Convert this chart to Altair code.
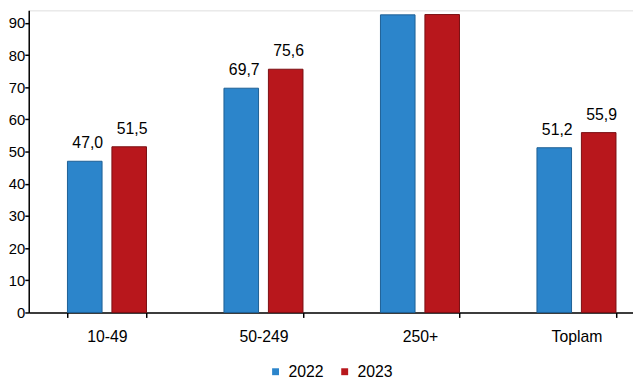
import altair as alt
import pandas as pd

categories = ["10-49", "50-249", "250+", "Toplam"]
years = ["2022", "2023"]
values_2022 = [47.0, 69.7, 92.5, 51.2]
values_2023 = [51.5, 75.6, 92.6, 55.9]
y_ticks = [0, 10, 20, 30, 40, 50, 60, 70, 80, 90]

rows = []
for c, a, b in zip(categories, values_2022, values_2023):
    rows.append({"cat": c, "year": years[0], "value": a})
    rows.append({"cat": c, "year": years[1], "value": b})
df = pd.DataFrame(rows)
df["label"] = df["value"].map(lambda v: f"{v:.1f}".replace(".", ","))

FONT = "Liberation Sans"
BLUE = "#2c85cb"
RED = "#b8171c"
BLUE_EDGE = "#1d5f94"
RED_EDGE = "#7a0f12"

x = alt.X(
    "cat:N", sort=categories, title=None,
    scale=alt.Scale(range=[0, 634], paddingInner=0.495, paddingOuter=0.2475),
    axis=alt.Axis(labelAngle=0, labelFontSize=16, labelColor="#000", labelFont=FONT,
                  labelPadding=11, tickBand="extent", tickSize=5, tickColor="#000",
                  tickWidth=1.5, domainColor="#000", domainWidth=1.5, grid=False),
)
xo = alt.XOffset("year:N", sort=years, scale=alt.Scale(paddingInner=0.222, paddingOuter=0))
y = alt.Y(
    "value:Q", title=None,
    scale=alt.Scale(domain=[0, 93.9], nice=False, zero=True),
    axis=alt.Axis(values=y_ticks, labelFontSize=15, labelColor="#000", labelFont=FONT,
                  labelPadding=0, tickSize=4, tickColor="#000", tickWidth=1.5,
                  domainColor="#000", domainWidth=1.5, grid=False),
)

bars = alt.Chart(df).mark_bar(strokeWidth=1).encode(
    x=x, xOffset=xo, y=y,
    color=alt.Color("year:N", sort=years, scale=alt.Scale(domain=years, range=[BLUE, RED]),
                    legend=alt.Legend(orient="none", legendX=242, legendY=358, direction="horizontal",
                                      title=None, symbolType="square", symbolSize=49,
                                      symbolStrokeWidth=0, labelFontSize=16, labelFont=FONT,
                                      labelColor="#000", labelOffset=5, columnPadding=13)),
    stroke=alt.Stroke("year:N", sort=years, scale=alt.Scale(domain=years, range=[BLUE_EDGE, RED_EDGE]),
                      legend=None),
)

labels = alt.Chart(df).mark_text(dy=-13, dx=3, baseline="alphabetic", fontSize=16, font=FONT,
                                 color="#000").encode(
    x=x, xOffset=xo, y=y, text="label:N",
)

chart = alt.layer(bars, labels).properties(
    width=612, height=306,
    autosize=alt.AutoSizeParams(type="none"),
    padding={"left": 21, "top": 0, "right": 0, "bottom": 66},
).configure_view(stroke=None).configure(background="white")

chart.save("out.html", embed_options={"renderer": "svg", "actions": False})
